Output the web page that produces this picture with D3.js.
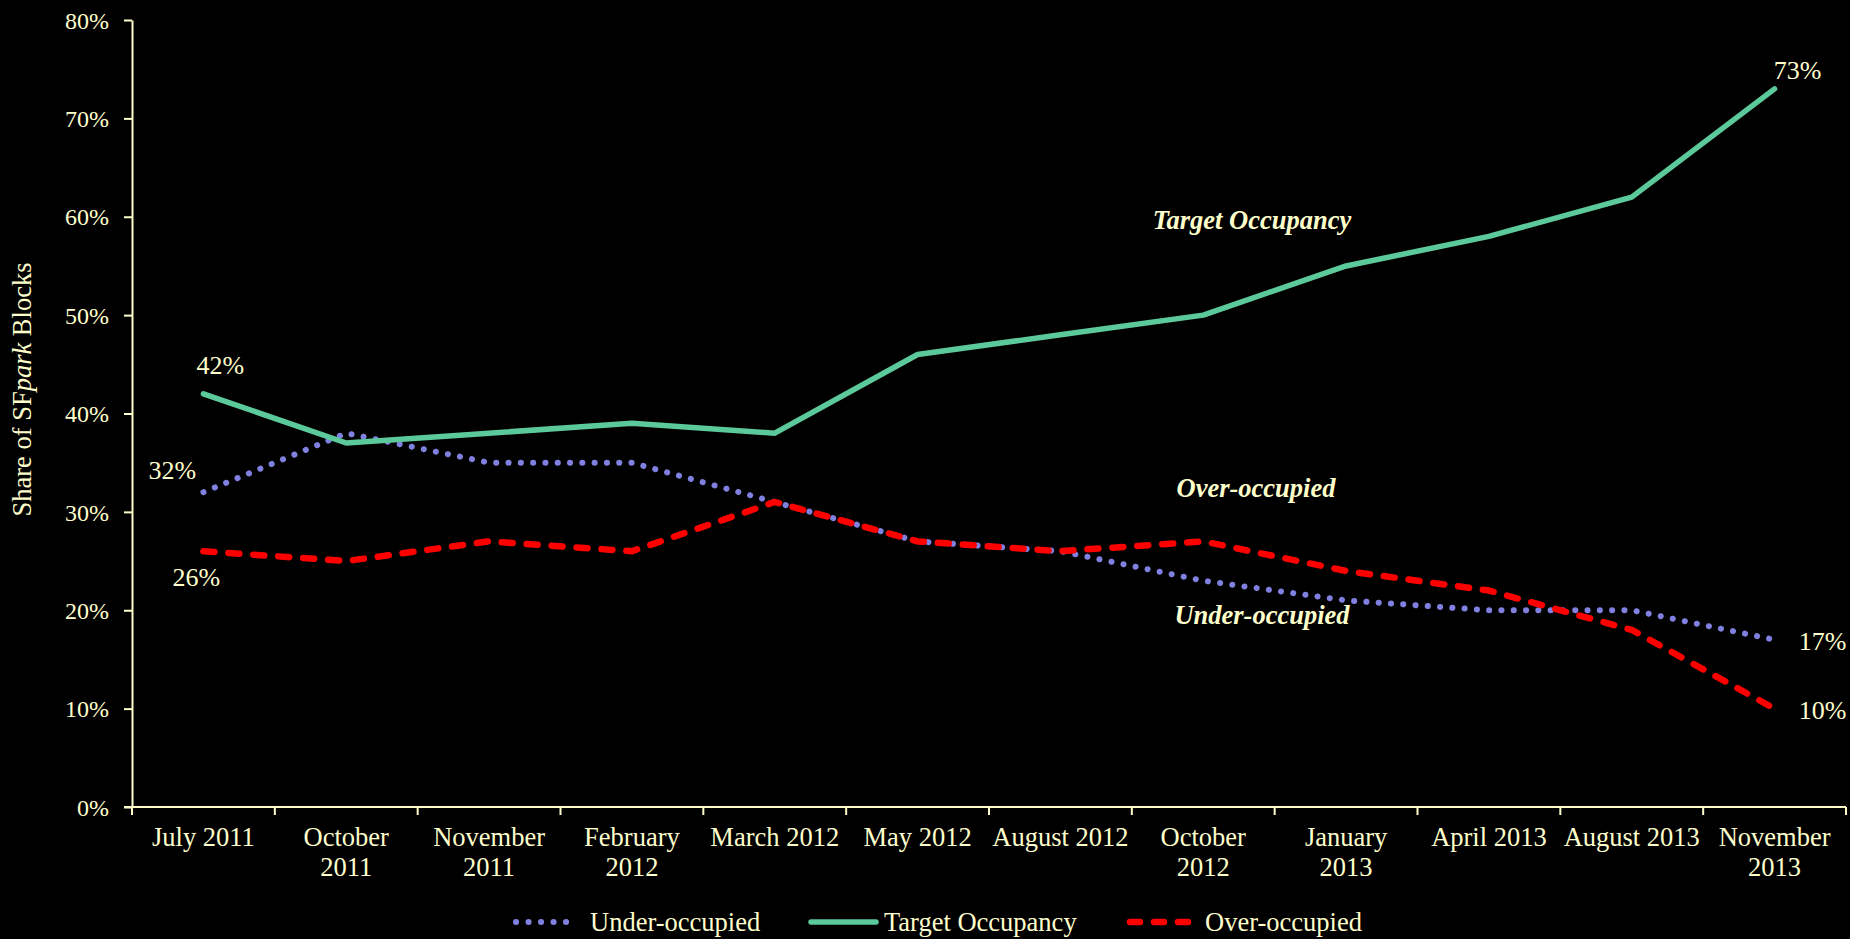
<!DOCTYPE html>
<html>
<head>
<meta charset="utf-8">
<script src="https://cdn.jsdelivr.net/npm/d3@7"></script>
<style>
html,body{margin:0;padding:0;background:#000;}
svg{display:block;}
text{font-family:"Liberation Serif","Times New Roman",serif;fill:#FFFFCC;}
</style>
</head>
<body>
<svg id="chart" width="1850" height="939"></svg>
<script>
const categories = ["July 2011","October 2011","November 2011","February 2012","March 2012","May 2012","August 2012","October 2012","January 2013","April 2013","August 2013","November 2013"];
const tickLabels = ["July 2011","October\n2011","November\n2011","February\n2012","March 2012","May 2012","August 2012","October\n2012","January\n2013","April 2013","August 2013","November\n2013"];
const underOccupied = [32,38,35,35,31,27,26,23,21,20,20,17];
const targetOccupancy = [42,37,38,39,38,46,48,50,55,58,62,73];
const overOccupied = [26,25,27,26,31,27,26,27,24,22,18,10];
const yTicks = [0,10,20,30,40,50,60,70,80];

(function(){
const cream = "#FFFFCC";
const series = [
  {name:"Under-occupied", values:underOccupied, color:"#8080E0", dash:"0.1 12.2", width:6},
  {name:"Target Occupancy", values:targetOccupancy, color:"#5CC99B", dash:null, width:5.5},
  {name:"Over-occupied", values:overOccupied, color:"#FF0000", dash:"11 14", width:6.5}
];

const svg = d3.select("#chart");
const mLeft = 132, mRight = 1846, mTop = 20, mBottom = 807;

const x = d3.scaleBand().domain(categories).range([mLeft, mRight]);
const y = d3.scaleLinear().domain([0,80]).range([mBottom, mTop]);

// Y axis
const yAxis = svg.append("g").attr("transform",`translate(${mLeft},0)`)
  .call(d3.axisLeft(y).tickValues(yTicks).tickFormat(d=>d+"%").tickSize(8).tickSizeOuter(0));
yAxis.select(".domain").attr("stroke",cream).attr("stroke-width",2);
yAxis.selectAll(".tick line").attr("stroke",cream).attr("stroke-width",2);
yAxis.selectAll(".tick text").attr("x",-23).attr("dy","0.34em").attr("font-size",24).attr("fill",cream)
  .attr("font-family","Liberation Serif");

// X axis (ticks at band boundaries)
const boundaries = categories.map(c=>x(c)).concat([mRight]);
const xg = svg.append("g");
xg.append("line").attr("x1",mLeft-8).attr("x2",mRight).attr("y1",mBottom).attr("y2",mBottom)
  .attr("stroke",cream).attr("stroke-width",2);
xg.selectAll("line.tk").data(boundaries).join("line").attr("class","tk")
  .attr("x1",d=>d).attr("x2",d=>d).attr("y1",mBottom).attr("y2",mBottom+8)
  .attr("stroke",cream).attr("stroke-width",2);
const xl = xg.selectAll("text.xl").data(categories).join("text").attr("class","xl")
  .attr("text-anchor","middle").attr("font-size",26.5)
  .attr("transform",(d)=>`translate(${x(d)+x.bandwidth()/2},${mBottom+39})`);
xl.each(function(d,i){
  const lines = tickLabels[i].split("\n");
  d3.select(this).selectAll("tspan").data(lines).join("tspan")
    .attr("x",0).attr("dy",(l,j)=>j===0?0:30).text(l=>l);
});

// Y title
const yt = svg.append("text").attr("transform",`translate(31,${(mTop+mBottom)/2 - 24}) rotate(-90)`)
  .attr("text-anchor","middle").attr("font-size",26.5);
yt.append("tspan").text("Share of SF");
yt.append("tspan").attr("font-style","italic").text("park");
yt.append("tspan").text(" Blocks");

// Lines
const line = d3.line()
  .x((d,i)=>x(categories[i])+x.bandwidth()/2)
  .y(d=>y(d))
  .curve(d3.curveLinear);
series.forEach(s=>{
  svg.append("path").datum(s.values).attr("d",line)
    .attr("fill","none").attr("stroke",s.color).attr("stroke-width",s.width)
    .attr("stroke-linecap","round").attr("stroke-linejoin","round")
    .attr("stroke-dasharray",s.dash);
});

// Data labels
const cx = i=>x(categories[i])+x.bandwidth()/2;
const n = categories.length-1;
const labels = [
  {t:targetOccupancy[0], x:cx(0)+17, y:y(targetOccupancy[0])-20},
  {t:underOccupied[0], x:cx(0)-31, y:y(underOccupied[0])-13},
  {t:overOccupied[0], x:cx(0)-7, y:y(overOccupied[0])+35},
  {t:targetOccupancy[n], x:cx(n)+23, y:y(targetOccupancy[n])-10},
  {t:underOccupied[n], x:cx(n)+48, y:y(underOccupied[n])+10},
  {t:overOccupied[n], x:cx(n)+48, y:y(overOccupied[n])+10}
];
svg.selectAll("text.dl").data(labels).join("text").attr("class","dl")
  .attr("x",d=>d.x).attr("y",d=>d.y).attr("text-anchor","middle")
  .attr("font-size",26).text(d=>d.t+"%");

// Annotations
const notes = [
  {t:"Target Occupancy", x:1252, y:229},
  {t:"Over-occupied", x:1256, y:497},
  {t:"Under-occupied", x:1262, y:624}
];
svg.selectAll("text.note").data(notes).join("text").attr("class","note")
  .attr("x",d=>d.x).attr("y",d=>d.y).attr("text-anchor","middle")
  .attr("font-size",26.5).attr("font-weight","bold").attr("font-style","italic").text(d=>d.t);

// Legend
const legendY = 922;
const legendItems = [
  {s:series[0], x1:516, x2:578, tx:590, dash:"0.1 12.4"},
  {s:series[1], x1:811, x2:876, tx:884, dash:null},
  {s:series[2], x1:1130, x2:1188, tx:1205, dash:"10 14"}
];
legendItems.forEach(li=>{
  svg.append("line").attr("x1",li.x1).attr("x2",li.x2).attr("y1",legendY).attr("y2",legendY)
    .attr("stroke",li.s.color).attr("stroke-width",li.s.width)
    .attr("stroke-linecap","round").attr("stroke-dasharray",li.dash);
  svg.append("text").attr("x",li.tx).attr("y",legendY+9).attr("font-size",26.5).text(li.s.name);
});
})();
</script>
</body>
</html>
